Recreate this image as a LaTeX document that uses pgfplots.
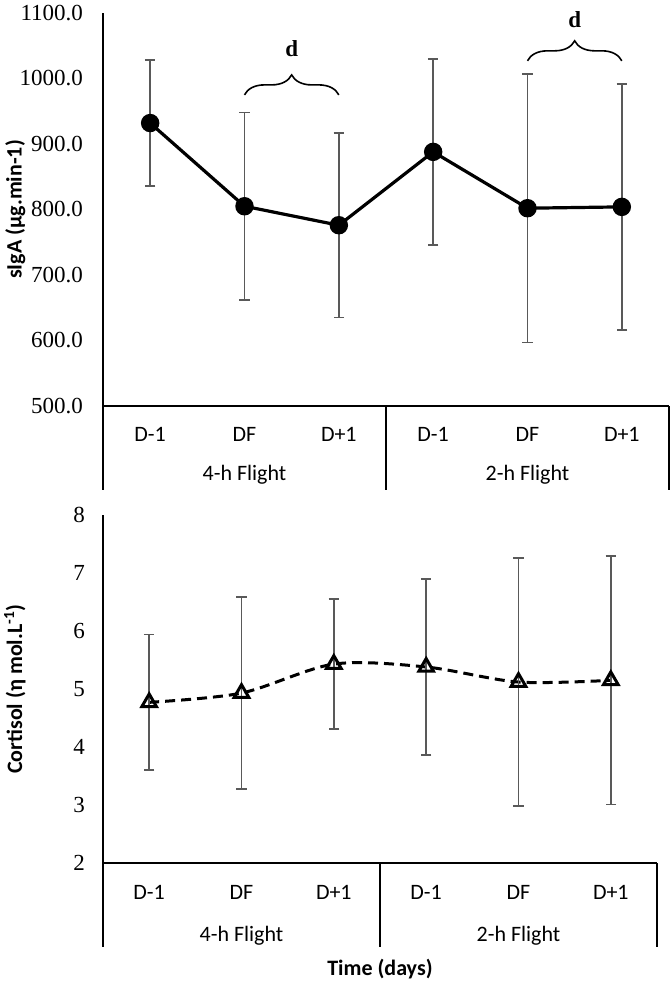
\documentclass[border=0pt]{standalone}
\usepackage{fontspec}
\setmainfont{Liberation Serif}
\newfontfamily\calfont{Carlito}
\usepackage{pgfplots}
\pgfplotsset{compat=1.18}
\usetikzlibrary{decorations.pathreplacing}
\definecolor{errgray}{HTML}{595959}
\begin{document}
\begin{tikzpicture}
\useasboundingbox (0,0) rectangle (336pt,-491pt);
\pgfplotsset{
  common/.style={
    scale only axis, clip=false,
    xmin=0, xmax=6,
    axis x line=bottom, axis y line=left,
    axis line style={line width=1.2pt,-},
    major tick length=0pt,
    xtick={0.5,1.5,2.5,3.5,4.5,5.5},
    xticklabels={D-1,DF,D+1,D-1,DF,D+1},
    xticklabel style={font=\calfont\fontsize{11}{12}\selectfont, anchor=center},
    yticklabel style={font=\fontsize{11.5}{13}\selectfont},
    /pgf/number format/assume math mode=true,
    ylabel style={font=\calfont\bfseries\fontsize{11}{13}\selectfont, anchor=center, rotate=0},
  },
}
% ---------------- top panel ----------------
\begin{axis}[common,
  at={(51.5pt,-203pt)}, anchor=south west,
  width=283pt, height=196.5pt,
  ymin=500, ymax=1100,
  ytick={500,600,...,1100},
  yticklabel style={xshift=-6.5pt, /pgf/number format/.cd, fixed, fixed zerofill, precision=1, 1000 sep={}},
  xticklabel style={yshift=-14pt},
  ylabel={sIgA (µg.min-1)},
  ylabel style={at={(axis description cs:-0.155,0.5)}},
]
\addplot[black, line width=1.6pt, mark=*, mark size=3.8pt,
  error bars/.cd, y dir=both, y explicit,
  error bar style={line width=0.9pt, errgray},
  error mark options={rotate=90, mark size=2.6pt, line width=0.9pt, errgray}]
coordinates {
(0.5,932) +- (0,96)
(1.5,805) +- (0,143)
(2.5,776) +- (0,141)
(3.5,888) +- (0,142)
(4.5,802) +- (0,205)
(5.5,804) +- (0,188)
};
\draw[line width=1.2pt] (axis cs:0,500) -- ([yshift=-42pt]axis cs:0,500);
\draw[line width=1.2pt] (axis cs:3,500) -- ([yshift=-42pt]axis cs:3,500);
\draw[line width=1.2pt] (axis cs:6,500) -- ([yshift=-42pt]axis cs:6,500);
\node[font=\calfont\fontsize{11}{12}\selectfont, text depth=0pt] at ([yshift=-33.5pt]axis cs:1.5,500) {4-h Flight};
\node[font=\calfont\fontsize{11}{12}\selectfont, text depth=0pt] at ([yshift=-33.5pt]axis cs:4.5,500) {2-h Flight};
\draw[decorate, decoration={brace, amplitude=10pt}, line width=0.8pt] (axis cs:1.5,975) -- (axis cs:2.5,975);
\draw[decorate, decoration={brace, amplitude=10pt}, line width=0.8pt] (axis cs:4.5,1027) -- (axis cs:5.5,1027);
\node[font=\bfseries\fontsize{11.5}{13}\selectfont] at (axis cs:2,1046) {d};
\node[font=\bfseries\fontsize{11.5}{13}\selectfont] at (axis cs:5,1090) {d};
\end{axis}
% ---------------- bottom panel ----------------
\begin{axis}[common,
  at={(51.5pt,-431.5pt)}, anchor=south west,
  width=277pt, height=174pt,
  ymin=2, ymax=8,
  ytick={2,3,...,8},
  yticklabel style={xshift=-5.5pt},
  xticklabel style={yshift=-14.5pt},
  ylabel={Cortisol (η mol.L\textsuperscript{-1})},
  ylabel style={at={(axis description cs:-0.159,0.5)}},
  xlabel={Time (days)},
  xlabel style={font=\calfont\bfseries\fontsize{11}{13}\selectfont, at={(axis description cs:0.5,0)}, anchor=center, yshift=-53pt},
]
\addplot[black, line width=1.5pt, dash pattern=on 5pt off 3pt, smooth,
  mark=triangle, mark size=4.2pt, mark options={solid, fill=white, line width=1.5pt},
  error bars/.cd, y dir=both, y explicit,
  error bar style={solid, line width=0.9pt, errgray},
  error mark options={solid, rotate=90, mark size=2.6pt, line width=0.9pt, errgray}]
coordinates {
(0.5,4.77) +- (0,1.17)
(1.5,4.93) +- (0,1.65)
(2.5,5.43) +- (0,1.12)
(3.5,5.38) +- (0,1.52)
(4.5,5.12) +- (0,2.14)
(5.5,5.15) +- (0,2.14)
};
\draw[line width=1.2pt] (axis cs:0,2) -- ([yshift=-42pt]axis cs:0,2);
\draw[line width=1.2pt] (axis cs:3,2) -- ([yshift=-42pt]axis cs:3,2);
\draw[line width=1.2pt] (axis cs:6,2) -- ([yshift=-42pt]axis cs:6,2);
\node[font=\calfont\fontsize{11}{12}\selectfont, text depth=0pt] at ([yshift=-35.5pt]axis cs:1.5,2) {4-h Flight};
\node[font=\calfont\fontsize{11}{12}\selectfont, text depth=0pt] at ([yshift=-35.5pt]axis cs:4.5,2) {2-h Flight};
\end{axis}
\end{tikzpicture}
\end{document}
